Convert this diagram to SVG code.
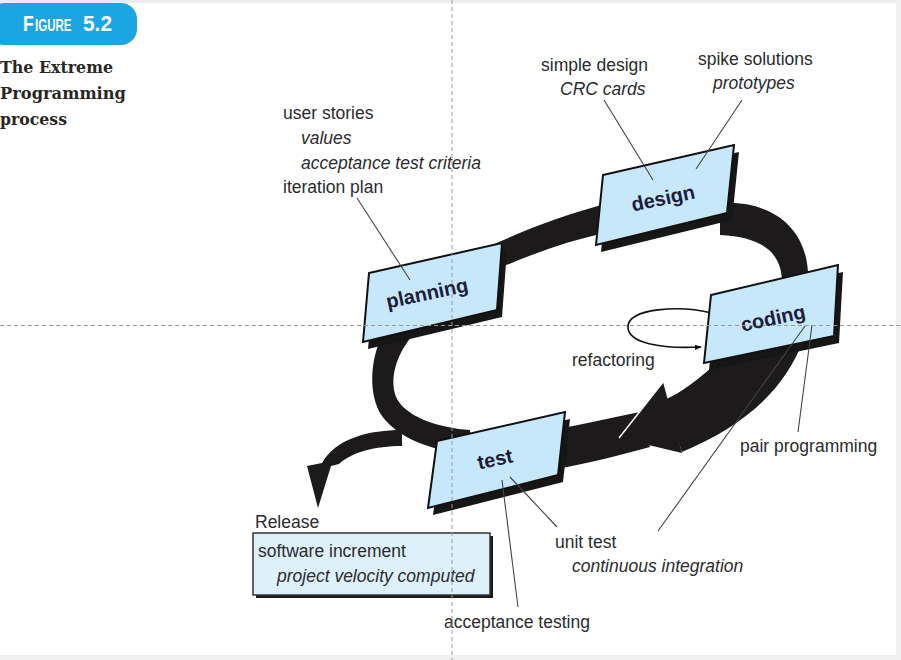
<svg xmlns="http://www.w3.org/2000/svg" width="901" height="660" viewBox="0 0 901 660">
  <defs>
    <marker id="ah" viewBox="0 0 10 10" refX="9" refY="5" markerWidth="7" markerHeight="7" orient="auto" markerUnits="userSpaceOnUse">
      <path d="M0,1 L10,5 L0,9 Z" fill="#111"/>
    </marker>
    <style>
      .box { fill: #c6e8fa; stroke: #111; stroke-width: 2; stroke-linejoin: miter; }
      .shadow { fill: #161616; }
      .band { fill: #1c1a1b; }
      .lead { stroke: #444; stroke-width: 1.1; fill: none; }
      .lbl { font-family: "Liberation Sans", Arial, sans-serif; font-size: 17.5px; fill: #2b2b2e; }
      .it { font-style: italic; }
      .nlbl { font-family: "Liberation Sans", Arial, sans-serif; font-size: 20px; font-weight: bold; fill: #1d1d3a; text-anchor: middle; }
      .dash { stroke: #9a9a9a; stroke-width: 1; stroke-dasharray: 4 3; fill: none; }
      .fig { font-family: "Liberation Sans", Arial, sans-serif; font-weight: bold; fill: #ffffff; }
    </style>
  </defs>
  <rect x="0" y="0" width="901" height="660" fill="#ffffff"/>
  <rect x="0" y="0" width="901" height="3" fill="#ececec"/>
  <rect x="896" y="0" width="5" height="660" fill="#f0f0f0"/>
  <rect x="0" y="655" width="901" height="5" fill="#f0f0f0"/>

  <!-- figure caption -->
  <g id="caption">
    <rect x="-12" y="3" width="149" height="42" rx="16" ry="16" fill="#1ca5e3"/>
    <text class="fig" transform="translate(23,31) scale(0.8,1)" font-size="22">F</text>
    <text class="fig" transform="translate(35,31) scale(0.7,1)" font-size="16.5">IGURE</text>
    <text class="fig" transform="translate(83,31) scale(0.95,1)" font-size="22">5.2</text>
    <text font-family="DejaVu Serif, Liberation Serif, serif" font-size="17" font-weight="bold" fill="#2a2623">
      <tspan x="0" y="73" textLength="113" lengthAdjust="spacingAndGlyphs">The Extreme</tspan>
      <tspan x="0" y="99" textLength="126" lengthAdjust="spacingAndGlyphs">Programming</tspan>
      <tspan x="0" y="125" textLength="67" lengthAdjust="spacingAndGlyphs">process</tspan>
    </text>
  </g>

  <!-- connectors: process loop, arrows, leader lines -->
  <g id="connectors">
    <path class="band" d="M490,246 C530,228 565,214 610,203 L610,232 C565,241 530,255 490,272 Z"/>
    <path class="band" d="M720,203 C765,200 805,222 808,272 L782,280 C781,255 765,237 720,235 Z"/>
    <path class="band" d="M722,358 C700,378 683,392 664,400 L682,452 C740,428 785,392 804,338 Z"/>
    <path class="band" d="M640,412 C610,418 585,424 552,430 L552,470 C590,463 620,455 650,447 Z"/>
    <path class="band" d="M470,430 C440,428 410,418 399,402 C389,388 392,360 412,336 L382,336 C370,360 368,395 382,416 C398,438 430,450 470,455 Z"/>
    <path class="band" d="M663,382 L619,438 L682,453 Z"/>
    <path d="M663,382 L619,438" stroke="#ffffff" stroke-width="1.5" fill="none"/>
    <path class="band" d="M402,430 C370,430 336,438 322,463 L307,466 L318,508 L331,466 L339,464 C352,452 375,446 402,446 Z"/>
    <path d="M712,313 C680,305 628,308 628,327 C628,343 660,349 701,347" stroke="#111" stroke-width="1.6" fill="none" marker-end="url(#ah)"/>
  </g>

  <g id="planning">
    <polygon class="shadow" points="374,280 507,250 502,317 368,349"/>
    <polygon class="box" points="369,273 502,243 497,310 363,342"/>
    <text class="nlbl" transform="translate(427,293) rotate(-12)" dy="0.35em">planning</text>
  </g>
  <g id="design">
    <polygon class="shadow" points="608,182 739,152 732,220 601,252"/>
    <polygon class="box" points="603,175 734,145 727,213 596,245"/>
    <text class="nlbl" transform="translate(663,198) rotate(-12)" dy="0.35em">design</text>
  </g>
  <g id="coding">
    <polygon class="shadow" points="716,302 843,272 839,343 709,370"/>
    <polygon class="box" points="711,295 838,265 834,336 704,363"/>
    <text class="nlbl" transform="translate(773,318) rotate(-12)" dy="0.35em">coding</text>
  </g>
  <g id="test">
    <polygon class="shadow" points="442,448 570,419 563,482 433,515"/>
    <polygon class="box" points="437,441 565,412 558,475 428,508"/>
    <text class="nlbl" transform="translate(495,459) rotate(-12)" dy="0.35em">test</text>
  </g>

  <g id="leaders">
    <line class="lead" x1="357" y1="198" x2="410" y2="280"/>
    <line class="lead" x1="604" y1="100" x2="653" y2="180"/>
    <line class="lead" x1="742" y1="100" x2="696" y2="169"/>
    <line class="lead" x1="812" y1="325" x2="798" y2="432"/>
    <line class="lead" x1="805" y1="326" x2="658" y2="531"/>
    <line class="lead" x1="510" y1="477" x2="557" y2="527"/>
    <line class="lead" x1="502" y1="480" x2="518" y2="607"/>
  </g>

  <g id="planning-notes">
    <text class="lbl" x="283" y="119">user stories</text>
    <text class="lbl it" x="301" y="144">values</text>
    <text class="lbl it" x="301" y="169">acceptance test criteria</text>
    <text class="lbl" x="283" y="193">iteration plan</text>
  </g>
  <g id="design-notes">
    <text class="lbl" x="541" y="71">simple design</text>
    <text class="lbl it" x="560" y="95">CRC cards</text>
    <text class="lbl" x="698" y="65">spike solutions</text>
    <text class="lbl it" x="713" y="89">prototypes</text>
  </g>
  <g id="coding-notes">
    <text class="lbl" x="572" y="366">refactoring</text>
    <text class="lbl" x="740" y="452">pair programming</text>
  </g>
  <g id="test-notes">
    <text class="lbl" x="555" y="548">unit test</text>
    <text class="lbl it" x="572" y="572">continuous integration</text>
    <text class="lbl" x="444" y="628">acceptance testing</text>
  </g>
  <g id="release">
    <text class="lbl" x="255" y="528">Release</text>
    <rect x="256" y="536" width="237" height="62" fill="#1b1b1b"/>
    <rect x="253" y="533" width="237" height="62" fill="#def1fb" stroke="#333" stroke-width="1.5"/>
    <text class="lbl" x="258" y="557">software increment</text>
    <text class="lbl it" x="277" y="582">project velocity computed</text>
  </g>

  <g id="guides">
    <line class="dash" x1="452" y1="0" x2="452" y2="660"/>
    <line class="dash" x1="0" y1="325.5" x2="901" y2="325.5"/>
  </g>
</svg>
